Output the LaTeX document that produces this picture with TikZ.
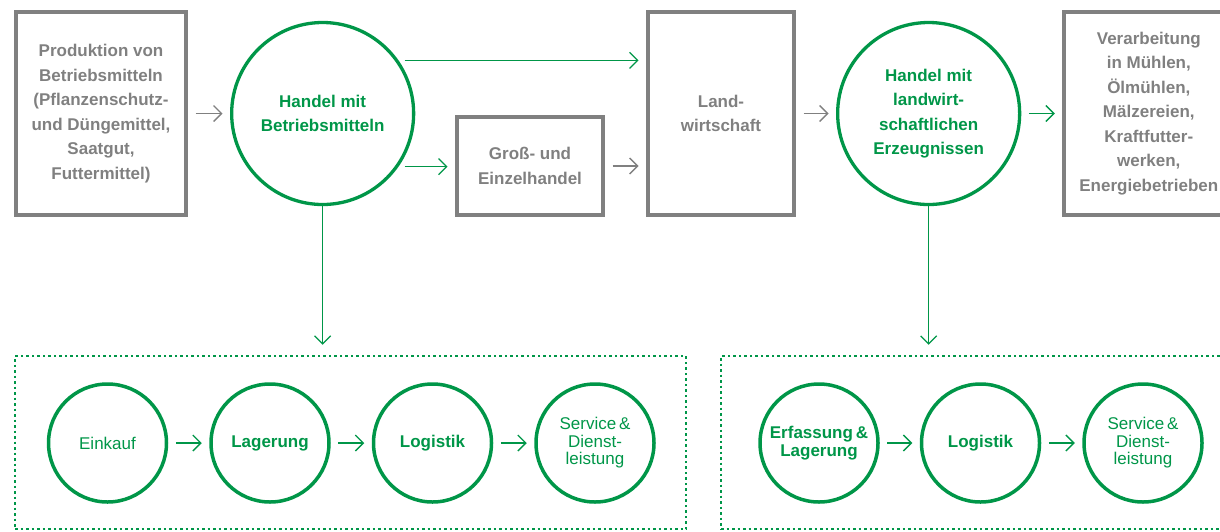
\documentclass[tikz,border=0pt]{standalone}
\usepackage{fontspec}
\setmainfont{Liberation Sans}
\usetikzlibrary{arrows.meta,positioning}
\definecolor{gruen}{RGB}{0,150,72}
\definecolor{grau}{RGB}{128,128,128}
\tikzset{
    kasten/.style={rectangle, draw=grau, line width=4pt, text=grau, align=center, inner sep=0pt, font=\fontsize{17}{24.5}\selectfont\bfseries},
    handel/.style={circle, draw=gruen, line width=3.3pt, text=gruen, align=center, inner sep=0pt, minimum size=182pt, font=\fontsize{17}{24.5}\selectfont\bfseries},
    schritt/.style={circle, draw=gruen, line width=3.5pt, text=gruen, align=center, inner sep=0pt, minimum size=118pt, font=\fontsize{17}{17.5}\selectfont\bfseries},
    leicht/.style={font=\fontsize{17}{17.5}\selectfont},
    kette/.style={rectangle, draw=gruen, line width=2.5pt, dash pattern=on 2.5pt off 3pt, minimum height=173pt},
    pfeil/.style={-{Straight Barb[length=8pt,width=16pt]}, line width=1.3pt, shorten <=7.5pt, shorten >=7.5pt}
}
\begin{document}
\begin{tikzpicture}[x=1pt, y=-1pt]
    \useasboundingbox (0,0) rectangle (1220,531);
    \node[kasten, minimum width=170pt, minimum height=203pt] (produktion) at (101,113.5)
      {Produktion von\\Betriebsmitteln\\(Pflanzenschutz-\\und Düngemittel,\\Saatgut,\\Futtermittel)};
    \node[handel, right=42pt of produktion] (handelbm)
      {Handel mit\\Betriebsmitteln};
    \node[kasten, minimum width=146pt, minimum height=98pt] (grosshandel) at (530,166)
      {Groß- und\\Einzelhandel};
    \node[kasten, minimum width=146pt, minimum height=203pt] (landwirtschaft) at (721,113.5)
      {Land-\\wirtschaft};
    \node[handel, right=40pt of landwirtschaft] (handelle)
      {Handel mit\\landwirt-\\schaftlichen\\Erzeugnissen};
    \node[kasten, minimum width=169pt, minimum height=203pt, right=41pt of handelle] (verarbeitung)
      {Verarbeitung\\in Mühlen,\\Ölmühlen,\\Mälzereien,\\Kraftfutter-\\werken,\\Energiebetrieben};

    \node[kette, minimum width=671pt] (kette1) at (350.5,442.5) {};
    \node[kette, minimum width=512pt] (kette2) at (977,442.5) {};

    \node[schritt, leicht] (einkauf) at (107.5,443) {Einkauf};
    \node[schritt, right=41pt of einkauf] (lagerung) {Lagerung};
    \node[schritt, right=41pt of lagerung] (logistik1) {Logistik};
    \node[schritt, leicht, right=41pt of logistik1] (service1) {Service\,\&\\Dienst-\\leistung};

    \node[schritt] (erfassung) at (819,443) {Erfassung\,\&\\Lagerung};
    \node[schritt, right=40pt of erfassung] (logistik2) {Logistik};
    \node[schritt, leicht, right=41pt of logistik2] (service2) {Service\,\&\\Dienst-\\leistung};

    \draw[pfeil, grau] (produktion) -- (handelbm);
    \draw[pfeil, gruen, shorten <=6pt] (handelbm.35) -- (handelbm.35 -| landwirtschaft.west);
    \draw[pfeil, gruen, shorten <=6pt] (handelbm.-35) -- (handelbm.-35 -| grosshandel.west);
    \draw[pfeil, grau] (grosshandel.east) -- (grosshandel.east -| landwirtschaft.west);
    \draw[pfeil, grau] (landwirtschaft) -- (handelle);
    \draw[pfeil, gruen] (handelle) -- (verarbeitung);
    \draw[pfeil, gruen, shorten <=0pt, shorten >=10pt] (handelbm.south) -- (handelbm.south |- kette1.north);
    \draw[pfeil, gruen, shorten <=0pt, shorten >=10pt] (handelle.south) -- (handelle.south |- kette2.north);

    \draw[pfeil, gruen] (einkauf) -- (lagerung);
    \draw[pfeil, gruen] (lagerung) -- (logistik1);
    \draw[pfeil, gruen] (logistik1) -- (service1);
    \draw[pfeil, gruen] (erfassung) -- (logistik2);
    \draw[pfeil, gruen] (logistik2) -- (service2);
\end{tikzpicture}
\end{document}
